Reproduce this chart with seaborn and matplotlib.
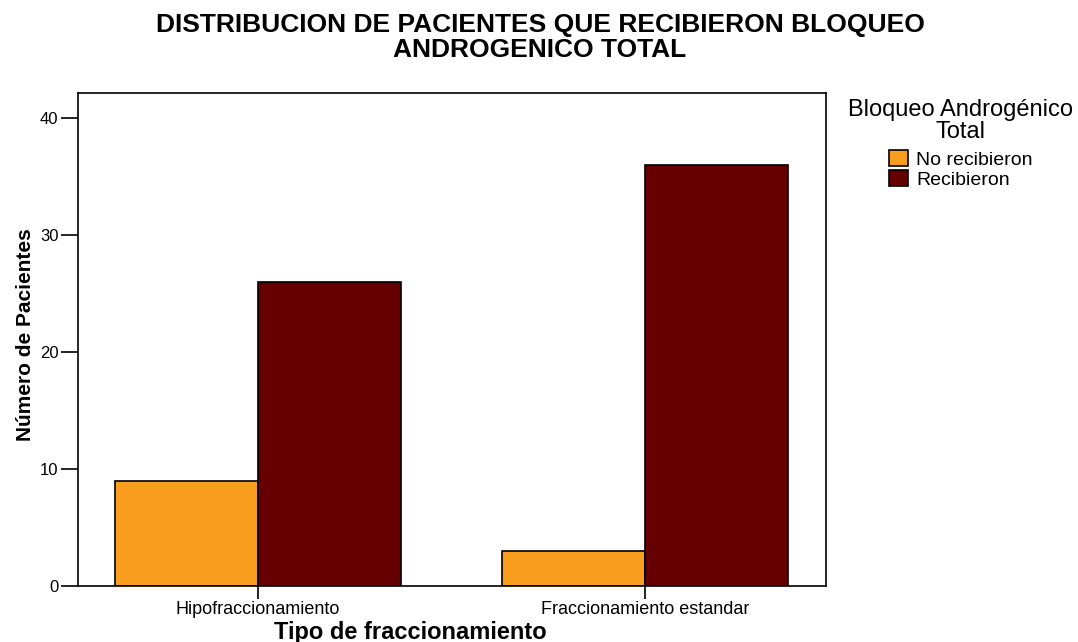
import pandas as pd
import matplotlib
matplotlib.use("Agg")
import matplotlib.pyplot as plt
import seaborn as sns

# chart data
fraccionamiento = ["Hipofraccionamiento", "Fraccionamiento estandar"]
grupos = ["No recibieron", "Recibieron"]
no_recibieron = [9, 3]
recibieron = [26, 36]
colores = ["#F99D1F", "#660000"]

df = pd.DataFrame({
    "tipo": fraccionamiento * 2,
    "bloqueo": [grupos[0]] * 2 + [grupos[1]] * 2,
    "n": no_recibieron + recibieron,
})

sns.set_style("white")
plt.rcParams["font.family"] = ["Liberation Sans", "DejaVu Sans"]
plt.rcParams["text.color"] = "black"
plt.rcParams["axes.labelcolor"] = "black"
plt.rcParams["xtick.color"] = "black"
plt.rcParams["ytick.color"] = "black"

fig = plt.figure(figsize=(10.78, 6.42), dpi=100)
ax = fig.add_axes([0.0724, 0.0872, 0.6938, 0.7678])

sns.barplot(data=df, x="tipo", y="n", hue="bloqueo", order=fraccionamiento,
            hue_order=grupos, palette=colores, width=0.74, gap=0,
            edgecolor="black", linewidth=1.2, saturation=1, ax=ax)

ax.set_xlim(-0.465, 1.468)
ax.set_ylim(0, 42.1)
ax.set_yticks([0, 10, 20, 30, 40])
ax.tick_params(axis="y", direction="out", length=12, width=1.2, labelsize=12,
               pad=2, left=True)
ax.tick_params(axis="x", direction="out", length=9, width=1.2, labelsize=13,
               pad=1.5, bottom=True)
for s in ax.spines.values():
    s.set_color("black")
    s.set_linewidth(1.2)

ax.set_xlabel("Tipo de fraccionamiento", fontsize=17, fontweight="bold")
ax.xaxis.set_label_coords(0.444, -0.070)
ax.set_ylabel("Número de Pacientes", fontsize=15, fontweight="bold",
              family=["Liberation Sans Narrow", "DejaVu Sans Condensed", "Liberation Sans"])
ax.yaxis.set_label_coords(-0.058, 0.51)

fig.suptitle("DISTRIBUCION DE PACIENTES QUE RECIBIERON BLOQUEO\nANDROGENICO TOTAL",
             fontsize=19, fontweight="bold", y=0.98, x=0.501, linespacing=1.05)

leg = ax.legend(title="Bloqueo Androgénico\nTotal", loc="upper center",
                bbox_to_anchor=(1.18, 1.016), frameon=False, fontsize=14,
                title_fontsize=17, handlelength=1.0, handleheight=0.9,
                handletextpad=0.4, labelspacing=0.08, alignment="center",
                borderaxespad=0.3)
leg.get_title().set_multialignment("center")
leg.get_title().set_linespacing(1.0)
leg._legend_box.sep = 5  # a bit more room between title and entries

fig.savefig("out.png", dpi=100)
